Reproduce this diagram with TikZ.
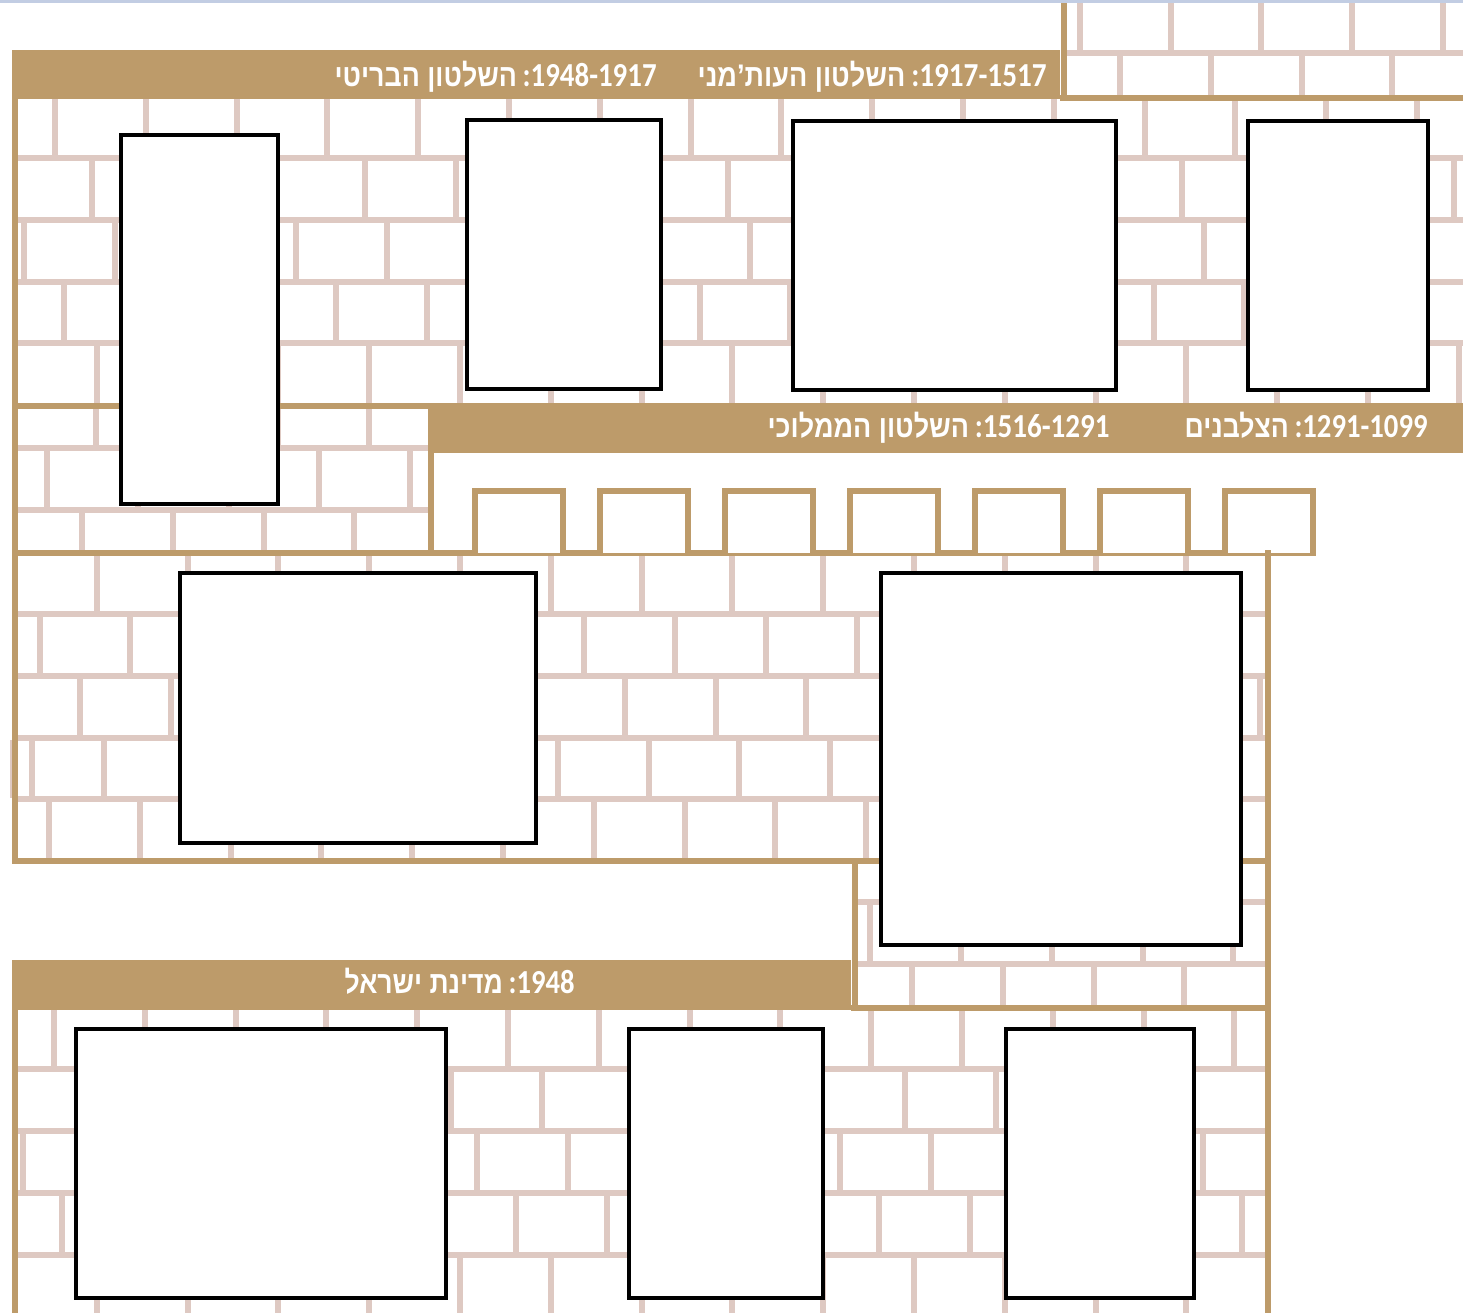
\documentclass[tikz,border=0pt]{standalone}
\usepackage{fontspec}
\usepackage{graphicx}
\TeXXeTstate=1
\newfontfamily\hebfont[Script=Hebrew]{Liberation Sans}
\newfontfamily\digfont{Carlito}
\definecolor{goldc}{RGB}{189,155,106}
\definecolor{mortarc}{RGB}{222,201,194}
\definecolor{bluec}{RGB}{194,205,227}
\tikzset{
  mortar/.style={draw=mortarc, line width=3pt},
  goldline/.style={draw=goldc, line width=3pt},
  goldbar/.style={fill=goldc},
  framebox/.style={draw=black, fill=white, line width=1.7pt},
  crenel/.style={draw=goldc, line width=3pt, fill=white},
  bandlabel/.style={anchor=base east, inner sep=0pt, text=white},
}
% one course of bricks: ytop, ybot, horizontal offset of the joints
\newcommand\brickrow[3]{%
  \foreach \k in {0,...,16}{\draw[mortar] ({#3+\k*90.8},#1) -- ({#3+\k*90.8},#2);}}
% label: width, hebrew part, number part
\newcommand\hebpart{\hebfont\bfseries\fontsize{15.6}{18}\selectfont}
\newcommand\numpart{\digfont\bfseries\fontsize{16.8}{18}\selectfont}
\newcommand\bandtext[3]{\resizebox{#1}{\height}{{\hebpart #2}\ {\numpart #3}}}
\begin{document}
\begin{tikzpicture}[x=0.5pt,y=-0.5pt]
\useasboundingbox (0,0) rectangle (1463,1313);
\fill[white] (0,0) rectangle (1463,1313);

% ---------- brick regions ----------
% top right
\begin{scope}
  \clip (1063,3) rectangle (1463,98);
  \draw[mortar] (1000,53) -- (1463,53);
  \brickrow{0}{53}{81}
  \brickrow{53}{98}{30.4}
\end{scope}
% region A
\begin{scope}
  \clip (14,98) rectangle (1463,405);
  \foreach \y in {158.3,220,281.7,343.3} \draw[mortar] (0,\y) -- (1463,\y);
  \brickrow{98}{158.3}{55}
  \brickrow{158.3}{220}{1.5}
  \brickrow{220}{281.7}{24}
  \brickrow{281.7}{343.3}{64}
  \brickrow{343.3}{405}{6}
\end{scope}
% left of band 2
\begin{scope}
  \clip (14,406) rectangle (430,553);
  \foreach \y in {448,510} \draw[mortar] (0,\y) -- (430,\y);
  \brickrow{406}{448}{5.5}
  \brickrow{448}{510}{47}
  \brickrow{510}{553}{82}
\end{scope}
% region C
\begin{scope}
  \clip (14,553) rectangle (1268,861);
  \foreach \y in {614,676,738,799} \draw[mortar] (0,\y) -- (1268,\y);
  \brickrow{553}{614}{6}
  \brickrow{614}{676}{39.5}
  \brickrow{676}{738}{80}
  \brickrow{738}{799}{13}
  \draw[mortar] (32,738) -- (32,799);
  \brickrow{799}{861}{49}
\end{scope}
\draw[mortarc, line width=1.2pt] (11.5,740) -- (11.5,798);
% below C, right part
\begin{scope}
  \clip (855,861) rectangle (1268,1007);
  \foreach \y in {902,964} \draw[mortar] (800,\y) -- (1268,\y);
  \brickrow{861}{902}{20}
  \brickrow{902}{964}{53}
  \brickrow{964}{1007}{4}
\end{scope}
% region D
\begin{scope}
  \clip (14,1008) rectangle (1268,1313);
  \foreach \y in {1069,1131,1193,1255} \draw[mortar] (0,\y) -- (1268,\y);
  \brickrow{1008}{1069}{54}
  \brickrow{1069}{1131}{88}
  \brickrow{1131}{1193}{23}
  \brickrow{1193}{1255}{62}
  \brickrow{1255}{1313}{6}
\end{scope}

% ---------- gold frame ----------
\fill[goldbar] (12,50) rectangle (1060,99);          % band 1
\draw[goldline] (1063.5,3) -- (1063.5,99);
\draw[goldline] (1060,98) -- (1463,98);
\draw[goldline] (14.5,50) -- (14.5,863);
\fill[goldbar] (428,403) rectangle (1463,453);       % band 2
\draw[goldline] (12,406) -- (432,406);
\draw[goldline] (430.5,403) -- (430.5,556);
\draw[goldline] (12,553) -- (1316,553);
\foreach \k in {0,...,6}
  \draw[crenel] ({475+125*\k},553) -- ({475+125*\k},491) -- ({563+125*\k},491) -- ({563+125*\k},553);
\draw[goldline] (1268,550) -- (1268,1313);
\draw[goldline] (12,861) -- (1270,861);
\draw[goldline] (855,858) -- (855,1010);
\fill[goldbar] (12,960) rectangle (851,1010);        % band 3
\draw[goldline] (851,1007.5) -- (1270,1007.5);
\draw[goldline] (14.5,1005) -- (14.5,1313);

% ---------- empty frames ----------
\draw[framebox] (121,135) rectangle (278,504);
\draw[framebox] (467,120) rectangle (661,389);
\draw[framebox] (793,121) rectangle (1116,390);
\draw[framebox] (1248,121) rectangle (1428,390);
\draw[framebox] (180,573) rectangle (536,843);
\draw[framebox] (881,573) rectangle (1241,945);
\draw[framebox] (76,1029) rectangle (446,1298);
\draw[framebox] (629,1029) rectangle (823,1298);
\draw[framebox] (1006,1029) rectangle (1194,1298);

% ---------- labels ----------
\node[bandlabel] (brit) at (657,86.5) {\bandtext{161pt}{\beginR השלטון הבריטי\endR}{:1948-1917}};
\node[bandlabel] (otto) at (1047,86.5) {\bandtext{174.5pt}{\beginR השלטון העות’מני\endR}{:1917-1517}};
\node[bandlabel] (maml) at (1110,437.5) {\bandtext{171pt}{\beginR השלטון הממלוכי\endR}{:1516-1291}};
\node[bandlabel] (cru) at (1428,437.5) {\bandtext{121.5pt}{\beginR הצלבנים\endR}{:1291-1099}};
\node[bandlabel] (isr) at (575,993.5) {\bandtext{115pt}{\beginR מדינת ישראל\endR}{:1948}};

% top rule
\fill[bluec] (0,0) rectangle (1463,3.3);
\end{tikzpicture}
\end{document}
